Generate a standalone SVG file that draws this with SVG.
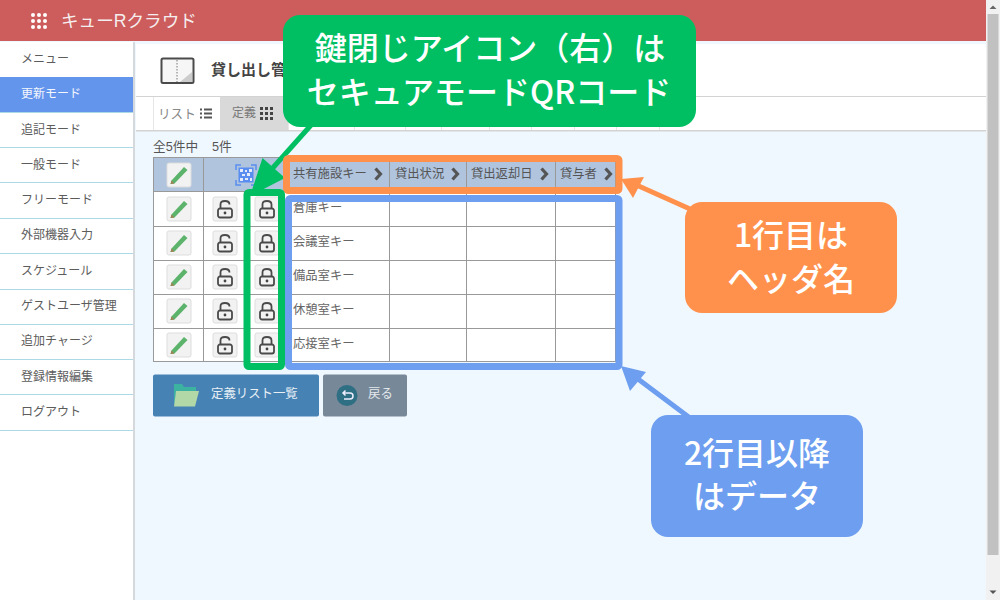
<svg xmlns="http://www.w3.org/2000/svg" width="1000" height="600" viewBox="0 0 1000 600">
<style>
text{font-family:"Liberation Sans","Noto Sans CJK JP",sans-serif}
.m{font-size:12px;fill:#5c5c5c}
.c{font-size:12.3px;fill:#666}
.h{font-size:12.3px;fill:#555}
.g{stroke:#999;stroke-width:1;fill:none}
.btn{fill:#f2f2f2;stroke:#ddd;stroke-width:1}
.big{font-size:32px;font-weight:500;fill:#fff;text-anchor:middle;font-family:"Noto Sans CJK JP",sans-serif}
.sep{stroke:#add8e6;stroke-width:1}
.lk{fill:none;stroke:#4a4a4a;stroke-width:1.800}
</style>
<defs>
<g id="pencil"><rect x="-12" y="-12" width="24" height="24" rx="2" class="btn"/><path d="M-7.500 5.500L5-8 8.500-5-4.500 8.500-8.500 9Z" fill="#5cb36b"/><path d="M-7.500 5.500L-8.500 9-4.500 8.500Z" fill="#a08055"/></g>
<g id="lockO"><rect x="-12" y="-12" width="24" height="24" rx="2" class="btn"/><rect x="-7" y="-.5" width="14" height="9" rx="2" class="lk"/><path d="M-4.500-1V-4.500Q-4.500-8 0-8T4.500-4.500" class="lk"/><circle cx="0" cy="4" r="1.400" fill="#444"/></g>
<g id="lockC"><rect x="-12" y="-12" width="24" height="24" rx="2" class="btn"/><rect x="-7" y="-.5" width="14" height="9" rx="2" class="lk"/><path d="M-4.500-1V-4.500Q-4.500-8 0-8T4.500-4.500V-1" class="lk"/><circle cx="0" cy="4" r="1.400" fill="#444"/></g>
<path id="chev" d="M-2.500-5.500L2.500 0-2.500 5.500" fill="none" stroke="#555" stroke-width="3.200"/>
</defs>
<rect width="1000" height="600" fill="#f0f8ff"/>
<g id="topbar">
<rect width="986" height="41" fill="#cd5c5c"/>
<g fill="#fff"><circle cx="33" cy="15" r="2"/><circle cx="39" cy="15" r="2"/><circle cx="45" cy="15" r="2"/><circle cx="33" cy="21" r="2"/><circle cx="39" cy="21" r="2"/><circle cx="45" cy="21" r="2"/><circle cx="33" cy="27" r="2"/><circle cx="39" cy="27" r="2"/><circle cx="45" cy="27" r="2"/></g>
<text x="61" y="27" font-size="17.600" fill="#f5eeee">キューRクラウド</text>
</g>
<g id="sidebar">
<rect x="0" y="42" width="133" height="558" fill="#fff"/>
<rect x="133" y="42" width="2" height="558" fill="#d5d9dc"/>
<rect x="0" y="77" width="133" height="35" fill="#6495ed"/>
<g class="sep"><path d="M0 112.500H133M0 147.500H133M0 182.500H133M0 218.500H133M0 253.500H133M0 289.500H133M0 324.500H133M0 359.500H133M0 394.500H133M0 430.500H133"/></g>
<text class="m" x="21" y="63">メニュー</text>
<text class="m" x="21" y="98" style="fill:#f4f7fd">更新モード</text>
<text class="m" x="21" y="134">追記モード</text>
<text class="m" x="21" y="169">一般モード</text>
<text class="m" x="21" y="204">フリーモード</text>
<text class="m" x="21" y="239">外部機器入力</text>
<text class="m" x="21" y="275">スケジュール</text>
<text class="m" x="21" y="310">ゲストユーザ管理</text>
<text class="m" x="21" y="345">追加チャージ</text>
<text class="m" x="21" y="381">登録情報編集</text>
<text class="m" x="21" y="416">ログアウト</text>
</g>
<g id="title">
<rect x="136" y="44" width="850" height="52" fill="#fff"/>
<rect x="136" y="96" width="850" height="1.500" fill="#d3d3d3"/>
<rect x="161.500" y="58.500" width="32" height="24.500" rx="1.500" fill="#f6f6f6" stroke="#4a4a4a" stroke-width="2"/>
<path d="M177 60V82" stroke="#777" stroke-dasharray="1.500 1.500"/>
<path d="M192 72V82H180Z" fill="#ccc"/>
<text x="211" y="75" font-size="15" font-weight="700" fill="#444">貸し出し管理</text>
</g>
<g id="tabs">
<rect x="136" y="97" width="850" height="33" fill="#fff"/>
<rect x="136" y="130" width="850" height="1.500" fill="#d3d3d3"/>
<rect x="220" y="97" width="68" height="33" fill="#d9d9d9"/>
<path d="M153.500 97V130M288.500 97V130M354.500 97V130M405.500 97V130M441.500 97V130M489.500 97V130M531.500 97V130M574.500 97V130M616.500 97V130M659.500 97V130" stroke="#e6e6e6" fill="none"/>
<text x="158" y="118" font-size="12.600" fill="#888">リスト</text>
<path d="M200 109.500h2M204 109.500h8M200 113.500h2M204 113.500h8M200 117.500h2M204 117.500h8" stroke="#555" stroke-width="1.800"/>
<text x="232" y="117" font-size="12" fill="#777">定義</text>
<g fill="#444"><rect x="260" y="107" width="3" height="3"/><rect x="265" y="107" width="3" height="3"/><rect x="270" y="107" width="3" height="3"/><rect x="260" y="112" width="3" height="3"/><rect x="265" y="112" width="3" height="3"/><rect x="270" y="112" width="3" height="3"/><rect x="260" y="117" width="3" height="3"/><rect x="265" y="117" width="3" height="3"/><rect x="270" y="117" width="3" height="3"/></g>
</g>
<text x="153" y="151" font-size="12.700" fill="#555">全5件中</text>
<text x="212" y="151" font-size="12.700" fill="#555">5件</text>
<g id="table">
<rect x="153" y="157" width="463" height="35" fill="#b0c4de"/>
<rect x="153" y="192" width="463" height="170" fill="#fff"/>
<path class="g" d="M153.500 157.500H616M153.500 191.500H616M153.500 226.500H616M153.500 260.500H616M153.500 294.500H616M153.500 328.500H616M153 361.500H616"/>
<path class="g" d="M153.500 157V362M203.500 157V362M389.500 157V362M466.500 157V362M555.500 157V362M615.500 157V362M289.500 157V192"/>
<use href="#pencil" x="179" y="175"/>
<path d="M236 170v-5h5M251 165h5v5M256 180v5h-5M241 185h-5v-5" fill="none" stroke="#5a8df0" stroke-width="1.500"/>
<rect x="238.500" y="167.500" width="15" height="15" fill="#5a8df0"/>
<path d="M240 169h3v3h-3zM245 170h2v2h-2zM249 169h3v3h-3zM242 174h3v2h-3zM247 173h3v3h-3zM240 178h3v3h-3zM245 178h3v2h-3zM250 178h2v3h-2z" fill="#e4ecfb"/>
<use href="#pencil" x="179" y="209"/><use href="#lockO" x="225" y="209"/><use href="#lockC" x="267" y="209"/>
<use href="#pencil" x="179" y="243"/><use href="#lockO" x="225" y="243"/><use href="#lockC" x="267" y="243"/>
<use href="#pencil" x="179" y="277"/><use href="#lockO" x="225" y="277"/><use href="#lockC" x="267" y="277"/>
<use href="#pencil" x="179" y="311"/><use href="#lockO" x="225" y="311"/><use href="#lockC" x="267" y="311"/>
<use href="#pencil" x="179" y="345"/><use href="#lockO" x="225" y="345"/><use href="#lockC" x="267" y="345"/>
<text class="h" x="293" y="178">共有施設キー</text><use href="#chev" x="378" y="174"/>
<text class="h" x="395" y="178">貸出状況</text><use href="#chev" x="455" y="174"/>
<text class="h" x="471" y="178">貸出返却日</text><use href="#chev" x="544" y="174"/>
<text class="h" x="560" y="178">貸与者</text><use href="#chev" x="608" y="174"/>
<text class="c" x="293" y="212">倉庫キー</text>
<text class="c" x="293" y="246">会議室キー</text>
<text class="c" x="293" y="280">備品室キー</text>
<text class="c" x="293" y="314">休憩室キー</text>
<text class="c" x="293" y="348">応接室キー</text>
</g>
<g id="buttons">
<rect x="153" y="374.500" width="166" height="42" rx="2" fill="#4682b4"/>
<path d="M174 388V384h8l2 3h12v5h-20l-2 14z" fill="#3cb3a0"/>
<path d="M176 391H199L195 406.500H174Z" fill="#b2d8a8"/>
<text x="211" y="398" font-size="12.400" fill="#e8f0f6">定義リスト一覧</text>
<rect x="323" y="374.500" width="84" height="42" rx="2" fill="#778899"/>
<circle cx="347" cy="395.500" r="10.500" fill="#2f6f84"/>
<path d="M343 393h7a3 3 0 0 1 0 6h-6M345.500 390.500L343 393l2.500 2.500" fill="none" stroke="#eef" stroke-width="1.500"/>
<text x="368" y="398" font-size="12.400" fill="#e4e8ec">戻る</text>
</g>
<g id="scrollbar">
<rect x="986" y="0" width="14" height="600" fill="#f1f1f1"/>
<rect x="987.500" y="14" width="11" height="541" fill="#c1c1c1"/>
<path d="M989.500 9L993 5.500 996.500 9Z" fill="#666"/>
<path d="M989.500 590.500L993 594 996.500 590.500Z" fill="#555"/>
</g>
<g id="connectors" fill="none">
<path d="M312 124L262 180" stroke="#00bf63" stroke-width="5"/>
<path d="M250 196L262.500 158 285 178Z" fill="#00bf63"/>
<path d="M690 209L632 183" stroke="#ff914d" stroke-width="5"/>
<path d="M621 179L644 177 633 198Z" fill="#ff914d"/>
<path d="M690 418L634 376" stroke="#6d9eef" stroke-width="5"/>
<path d="M621 366L646 372 630 391Z" fill="#6d9eef"/>
</g>
<g id="highlights" fill="none">
<rect x="286.500" y="158.500" width="332.500" height="32" rx="2" stroke="#ff914d" stroke-width="7"/>
<rect x="288.500" y="198.500" width="330.500" height="168" rx="2" stroke="#6d9eef" stroke-width="7"/>
<rect x="247" y="192.500" width="34.500" height="174" rx="2" stroke="#00bf63" stroke-width="7"/>
</g>
<g id="callout-green">
<rect x="283" y="15" width="413" height="112" rx="17" fill="#00bf63"/>
<text class="big" x="490" y="60">鍵閉じアイコン（右）は</text>
<text class="big" x="489" y="104">セキュアモードQRコード</text>
</g>
<g id="callout-orange">
<rect x="685" y="202" width="212" height="111" rx="17" fill="#ff914d"/>
<text class="big" x="791" y="247">1行目は</text>
<text class="big" x="791" y="291">ヘッダ名</text>
</g>
<g id="callout-blue">
<rect x="651" y="415" width="212" height="122" rx="17" fill="#6d9eef"/>
<text class="big" x="757" y="465">2行目以降</text>
<text class="big" x="757" y="508">はデータ</text>
</g>
</svg>
